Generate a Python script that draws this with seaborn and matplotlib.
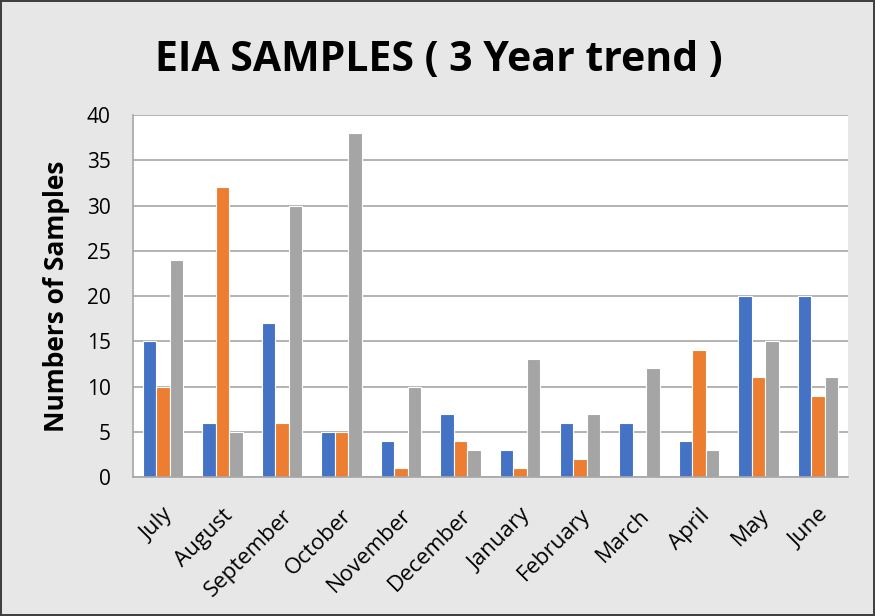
import pandas as pd
import seaborn as sns
import matplotlib.pyplot as plt

# data
months = ["July", "August", "September", "October", "November", "December",
          "January", "February", "March", "April", "May", "June"]
year1 = [15, 6, 17, 5, 4, 7, 3, 6, 6, 4, 20, 20]
year2 = [10, 32, 6, 5, 1, 4, 1, 2, 0, 14, 11, 9]
year3 = [24, 5, 30, 38, 10, 3, 13, 7, 12, 3, 15, 11]
series = ["Year 1", "Year 2", "Year 3"]
colors = ["#4472C4", "#ED7D31", "#A5A5A5"]

df = pd.DataFrame({"Month": months * 3,
                   "Samples": year1 + year2 + year3,
                   "Series": [s for s in series for _ in months]})

sns.set_theme(style="white")
plt.rcParams['font.family'] = ['Open Sans', 'DejaVu Sans']

fig = plt.figure(figsize=(8.75, 6.16), dpi=100)
fig.patch.set_facecolor("#E7E7E7")
fig.patch.set_edgecolor("#404040")
fig.patch.set_linewidth(1.5)

ax = fig.add_axes([0.152, 0.2256, 0.817, 0.5877])
sns.barplot(data=df, x="Month", y="Samples", hue="Series", order=months,
            hue_order=series, palette=colors, width=0.68, gap=0,
            edgecolor="white", linewidth=0.8, saturation=1, legend=False, ax=ax)

ax.set_facecolor("white")
ax.set_ylim(0, 40)
ax.set_yticks(range(0, 41, 5))
ax.set_xlim(-0.5, len(months) - 0.5)
ax.yaxis.grid(True, color="#A6A6A6", linewidth=1.2)
ax.set_axisbelow(True)
for side in ["top", "right"]:
    ax.spines[side].set_visible(False)
for side in ["left", "bottom"]:
    ax.spines[side].set_color("#A6A6A6")
    ax.spines[side].set_linewidth(1.2)

ax.tick_params(axis="y", labelsize=15, pad=16, length=0, colors="black")
ax.tick_params(axis="x", labelsize=16, pad=20, length=0, colors="black")
plt.setp(ax.get_xticklabels(), rotation=45, ha="right", rotation_mode="anchor")

ax.set_xlabel("")
ax.set_ylabel("Numbers of Samples", fontsize=19, fontweight="bold", color="black")
ax.yaxis.set_label_coords(-0.088, 0.5)
fig.text(0.501, 0.902, "EIA SAMPLES ( 3 Year trend )", ha="center", va="center",
         fontsize=29.5, fontweight="bold", color="black")

fig.savefig("out.png", dpi=100, facecolor=fig.get_facecolor(),
            edgecolor=fig.get_edgecolor())
